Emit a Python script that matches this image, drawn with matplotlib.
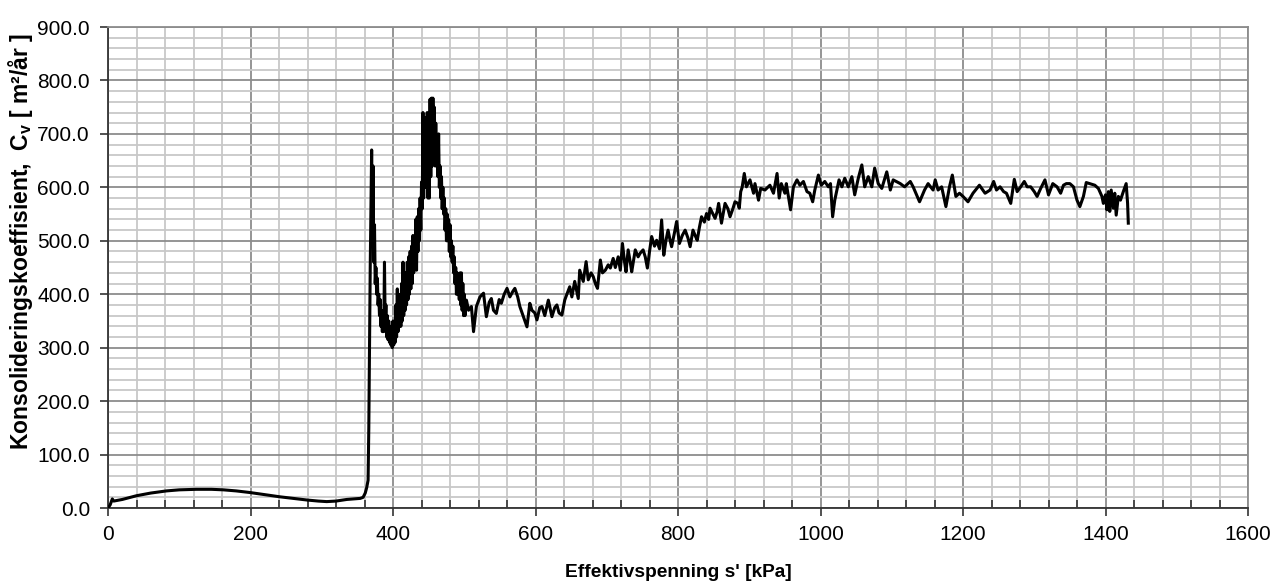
import matplotlib.pyplot as plt
from matplotlib.ticker import MultipleLocator, FormatStrFormatter
import numpy as np

# --- データ ---
# 0-368 kPa : 滑らかな低い部分
low_x = [0, 3, 6, 8, 12, 20, 40, 60, 82, 100, 124, 145, 162, 180, 199, 220,
         241, 260, 279, 295, 307, 320, 335, 345, 354, 358, 361, 363, 365, 366, 367, 368]
low_y = [0, 6, 17, 13, 14, 16, 23, 28, 32, 34, 35, 35, 34, 32, 29, 25,
         21, 18, 15, 13, 12, 13, 16, 17, 18, 20, 28, 38, 52, 150, 300, 450]

# 370-500 kPa : ノイズの大きいピーク部分 (上側/下側の包絡線)
spike_x = list(range(370, 501, 2))
spike_hi = [670, 640, 530, 450, 430, 400, 390, 370, 360, 460,
            380, 360, 350, 340, 330, 350, 340, 380, 410, 400,
            380, 420, 460, 420, 440, 460, 470, 480, 490, 510,
            500, 540, 545, 560, 580, 610, 740, 700, 730, 740,
            700, 765, 767, 767, 750, 720, 690, 700, 640, 620,
            600, 580, 560, 550, 540, 530, 500, 490, 470, 450,
            440, 420, 440, 440, 420, 400]
spike_lo = [500, 460, 420, 400, 380, 360, 340, 330, 330, 340,
            320, 315, 310, 305, 300, 305, 310, 320, 330, 340,
            340, 350, 360, 370, 380, 390, 400, 410, 420, 440,
            450, 445, 480, 500, 520, 560, 580, 600, 600, 580,
            580, 620, 640, 650, 640, 640, 620, 600, 580, 560,
            550, 520, 500, 500, 480, 470, 460, 440, 420, 400,
            400, 390, 380, 370, 360, 360]

# 503-893 kPa : 上昇部分
mid_x = [503, 506, 510, 513, 517, 522, 527, 531, 535, 538, 541, 545, 549, 552, 556, 560,
         564, 568, 571, 575, 578, 583, 588, 592, 595, 599, 602, 606, 609, 613, 618, 623,
         627, 630, 633, 637, 641, 644, 648, 651, 655, 660, 662, 667, 671, 674, 678, 681,
         684, 687, 691, 694, 698, 702, 705, 709, 712, 716, 719, 722, 725, 727, 730, 733,
         735, 740, 744, 747, 751, 754, 757, 760, 763, 767, 770, 774, 777, 780, 783, 786,
         789, 791, 795, 798, 802, 806, 810, 814, 817, 821, 824, 827, 830, 833, 837, 840,
         843, 845, 849, 852, 855, 857, 861, 864, 866, 870, 873, 877, 880, 884, 886, 888,
         890, 893]
mid_y = [389, 370, 377, 330, 377, 395, 402, 358, 385, 392, 370, 364, 390, 383, 400, 411,
         395, 405, 411, 395, 377, 358, 339, 383, 370, 365, 352, 375, 377, 360, 389, 358,
         375, 380, 365, 361, 389, 400, 414, 395, 424, 392, 445, 424, 461, 427, 440, 433,
         420, 411, 464, 440, 445, 455, 449, 467, 450, 470, 445, 495, 460, 442, 483, 460,
         442, 483, 470, 477, 483, 470, 449, 480, 508, 490, 501, 485, 539, 473, 500, 520,
         500, 489, 515, 536, 495, 510, 520, 505, 489, 520, 510, 501, 525, 545, 535, 551,
         540, 561, 550, 542, 555, 570, 533, 555, 570, 560, 545, 560, 573, 570, 561, 592,
         600, 626]

# 896-1432 kPa : 平坦な部分
high_x = [896, 901, 906, 908, 913, 916, 922, 929, 934, 939, 942, 945, 950, 952, 958, 962,
          967, 971, 976, 981, 985, 989, 992, 997, 1001, 1006, 1011, 1014, 1017, 1020, 1026, 1030,
          1034, 1039, 1044, 1048, 1053, 1058, 1062, 1067, 1072, 1076, 1081, 1086, 1093, 1098, 1102, 1112,
          1118, 1126, 1130, 1139, 1146, 1151, 1158, 1161, 1165, 1170, 1176, 1181, 1185, 1190, 1195, 1200,
          1207, 1214, 1223, 1231, 1238, 1243, 1247, 1252, 1257, 1261, 1267, 1272, 1276, 1281, 1286, 1290,
          1295, 1300, 1304, 1309, 1315, 1320, 1326, 1332, 1337, 1341, 1345, 1350, 1355, 1360, 1364, 1369,
          1373, 1378, 1385, 1390, 1395, 1397, 1400, 1402, 1404, 1406, 1408, 1411, 1413, 1415, 1418, 1421,
          1425, 1429, 1431, 1432]
high_y = [601, 614, 589, 607, 576, 598, 595, 604, 589, 626, 580, 607, 589, 607, 558, 601,
          614, 604, 611, 592, 589, 573, 595, 623, 604, 611, 601, 607, 545, 576, 614, 601,
          617, 601, 620, 586, 617, 642, 601, 620, 601, 636, 607, 598, 629, 595, 614, 607,
          601, 611, 601, 573, 595, 607, 595, 614, 595, 601, 564, 601, 623, 583, 589, 583,
          573, 589, 604, 589, 595, 611, 595, 601, 592, 589, 570, 615, 592, 601, 611, 601,
          601, 592, 583, 598, 614, 586, 607, 601, 589, 604, 607, 607, 601, 576, 564, 583,
          609, 607, 604, 598, 583, 570, 586, 558, 592, 555, 595, 561, 589, 548, 583, 576,
          592, 607, 570, 533]

# ピーク部分は上下の包絡線を交互につないでギザギザにする
sx = np.array(spike_x)
spike_xs = np.column_stack([sx, sx + 1]).ravel()
spike_ys = np.column_stack([spike_hi, spike_lo]).ravel()

x = np.concatenate([low_x, spike_xs, mid_x, high_x])
y = np.concatenate([low_y, spike_ys, mid_y, high_y])

# --- 描画 ---
plt.rcParams['font.family'] = ['Liberation Sans', 'DejaVu Sans']
plt.rcParams['mathtext.default'] = 'regular'

fig, ax = plt.subplots(figsize=(12.8, 5.85), dpi=100)
fig.subplots_adjust(left=0.0844, right=0.975, bottom=0.1316, top=0.9538)

ax.plot(x, y, color='black', linewidth=2.2, zorder=3)

ax.set_xlim(0, 1600)
ax.set_ylim(0, 900)
ax.xaxis.set_major_locator(MultipleLocator(200))
ax.xaxis.set_minor_locator(MultipleLocator(40))
ax.yaxis.set_major_locator(MultipleLocator(100))
ax.yaxis.set_minor_locator(MultipleLocator(20))
ax.yaxis.set_major_formatter(FormatStrFormatter('%.1f'))

ax.grid(which='major', color='#8c8c8c', linewidth=1.3)
ax.grid(which='minor', color='#c8c8c8', linewidth=1.3)
ax.set_axisbelow(True)

ax.tick_params(axis='both', which='major', direction='out', length=6,
               width=1.2, color='#333333', labelsize=15)
ax.tick_params(axis='x', which='major', pad=6.5)
ax.tick_params(axis='y', which='major', pad=7)
ax.tick_params(axis='x', which='minor', direction='in', length=6, width=1.2, color='#333333')
ax.tick_params(axis='y', which='minor', length=0)

for side in ['left', 'bottom']:
    ax.spines[side].set_color('#333333')
    ax.spines[side].set_linewidth(1.3)
for side in ['top', 'right']:
    ax.spines[side].set_color('#8c8c8c')
    ax.spines[side].set_linewidth(1.3)

ax.set_xlabel("Effektivspenning s' [kPa]", fontsize=13.8, fontweight='bold')
ax.set_ylabel("Konsolideringskoeffisient,  C$_v$ [ m²/år ]", fontsize=16.5,
              fontweight='bold')
ax.xaxis.set_label_coords(0.5, -0.116)
ax.yaxis.set_label_coords(-0.064, 0.555)

fig.savefig('out.png', dpi=100)
